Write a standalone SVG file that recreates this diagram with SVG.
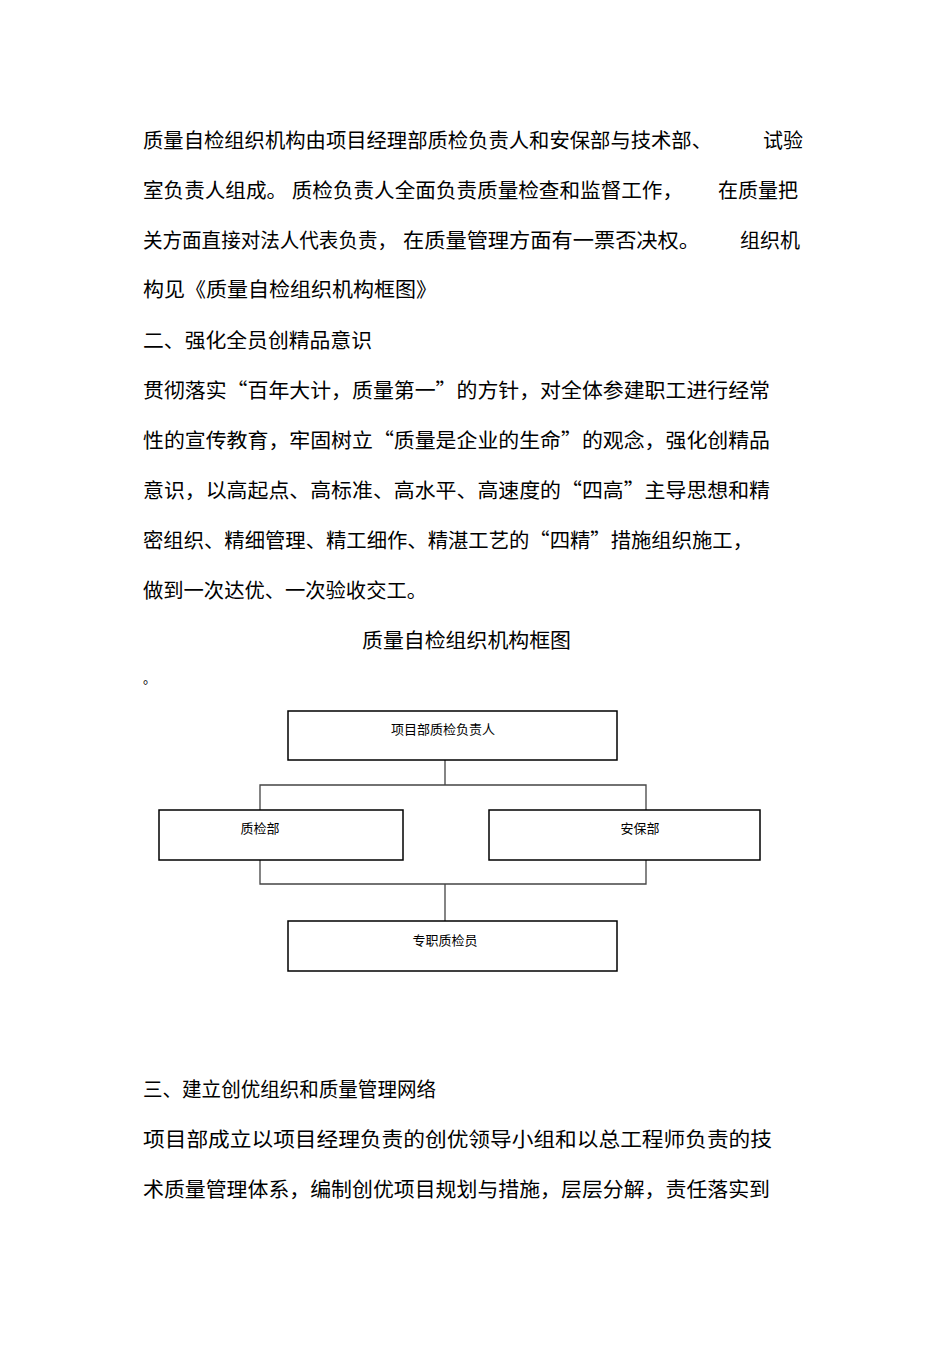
<svg xmlns="http://www.w3.org/2000/svg" width="950" height="1345" viewBox="0 0 950 1345">
<style>
.t{font-family:"Noto Sans CJK SC","Liberation Sans",sans-serif;font-size:20px;fill:#000}
.s{font-family:"Noto Sans CJK SC","Liberation Sans",sans-serif;font-size:13px;fill:#000}
.box{fill:#fff;stroke:#000;stroke-width:1.5}
.c{fill:none;stroke:#444;stroke-width:1.3}
</style>
<rect width="950" height="1345" fill="#fff"/>
<text class="t" x="143" y="148" textLength="569" lengthAdjust="spacingAndGlyphs">质量自检组织机构由项目经理部质检负责人和安保部与技术部、</text>
<text class="t" x="763" y="148">试验</text>
<text class="t" x="143" y="198" textLength="540" lengthAdjust="spacingAndGlyphs">室负责人组成。 质检负责人全面负责质量检查和监督工作，</text>
<text class="t" x="718" y="198">在质量把</text>
<text class="t" x="143" y="248" textLength="254" lengthAdjust="spacingAndGlyphs">关方面直接对法人代表负责，</text>
<text class="t" x="403" y="248" textLength="297" lengthAdjust="spacingAndGlyphs">在质量管理方面有一票否决权。</text>
<text class="t" x="740" y="248">组织机</text>
<text class="t" x="143" y="297" textLength="294" lengthAdjust="spacingAndGlyphs">构见《质量自检组织机构框图》</text>
<text class="t" x="143" y="348" textLength="229" lengthAdjust="spacingAndGlyphs">二、强化全员创精品意识</text>
<text class="t" x="143" y="398" textLength="627" lengthAdjust="spacingAndGlyphs">贯彻落实“百年大计，质量第一”的方针，对全体参建职工进行经常</text>
<text class="t" x="143" y="448" textLength="627" lengthAdjust="spacingAndGlyphs">性的宣传教育，牢固树立“质量是企业的生命”的观念，强化创精品</text>
<text class="t" x="143" y="498" textLength="627" lengthAdjust="spacingAndGlyphs">意识，以高起点、高标准、高水平、高速度的“四高”主导思想和精</text>
<text class="t" x="143" y="548" textLength="610" lengthAdjust="spacingAndGlyphs">密组织、精细管理、精工细作、精湛工艺的“四精”措施组织施工，</text>
<text class="t" x="143" y="598" textLength="284" lengthAdjust="spacingAndGlyphs">做到一次达优、一次验收交工。</text>
<text class="t" x="362" y="648" textLength="209" lengthAdjust="spacingAndGlyphs">质量自检组织机构框图</text>
<text class="s" x="143" y="683">。</text>
<g id="connectors">
<path class="c" d="M445 760V785M260 810V785H646V810M260 860V884H646V860M445 884V921"/>
</g>
<g id="n1"><rect class="box" x="288" y="711" width="329" height="49"/><text class="s" x="443" y="734" text-anchor="middle">项目部质检负责人</text></g>
<g id="n2"><rect class="box" x="159" y="810" width="244" height="50"/><text class="s" x="260" y="833" text-anchor="middle">质检部</text></g>
<g id="n3"><rect class="box" x="489" y="810" width="271" height="50"/><text class="s" x="640" y="833" text-anchor="middle">安保部</text></g>
<g id="n4"><rect class="box" x="288" y="921" width="329" height="50"/><text class="s" x="445" y="945" text-anchor="middle">专职质检员</text></g>
<text class="t" x="143" y="1097" textLength="293" lengthAdjust="spacingAndGlyphs">三、建立创优组织和质量管理网络</text>
<text class="t" x="143" y="1147" textLength="629" lengthAdjust="spacingAndGlyphs">项目部成立以项目经理负责的创优领导小组和以总工程师负责的技</text>
<text class="t" x="143" y="1197" textLength="627" lengthAdjust="spacingAndGlyphs">术质量管理体系，编制创优项目规划与措施，层层分解，责任落实到</text>
</svg>
